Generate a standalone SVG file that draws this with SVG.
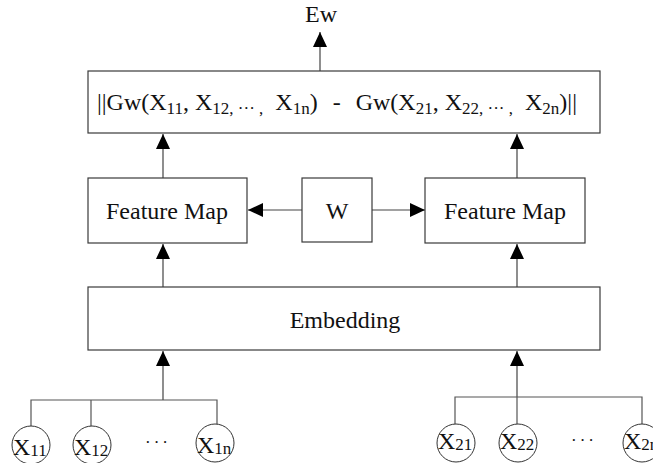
<svg xmlns="http://www.w3.org/2000/svg" width="653" height="463" viewBox="0 0 653 463">
  <style>
    .box { fill: #ffffff; stroke: #3a3a3a; stroke-width: 1.2; }
    .node-circle { fill: #ffffff; stroke: #333333; stroke-width: 1; }
    .lbl { font-family: "Liberation Serif", "Times New Roman", serif; font-size: 24px; fill: #111111; }
    .sub { font-size: 17px; }
    .wire { stroke: #555555; stroke-width: 1.2; fill: none; }
    .arrow { stroke: #444444; stroke-width: 1.2; fill: none; marker-end: url(#head); }
  </style>
  <defs>
    <marker id="head" markerUnits="userSpaceOnUse" viewBox="0 0 15 14" refX="15" refY="7" markerWidth="15" markerHeight="14" orient="auto">
      <path d="M0,0 L15,7 L0,14 Z" fill="#000000"/>
    </marker>
  </defs>

  <rect width="653" height="463" fill="#ffffff"/>

  <!-- connectors -->
  <g id="connectors">
    <line class="arrow" x1="320" y1="71" x2="320" y2="32"/>
    <line class="arrow" x1="163" y1="178" x2="163" y2="134"/>
    <line class="arrow" x1="517" y1="178" x2="517" y2="134"/>
    <line class="arrow" x1="302" y1="210" x2="248" y2="210"/>
    <line class="arrow" x1="372" y1="210" x2="425" y2="210"/>
    <line class="arrow" x1="163" y1="287" x2="163" y2="244"/>
    <line class="arrow" x1="517" y1="287" x2="517" y2="244"/>
    <line class="arrow" x1="163" y1="400" x2="163" y2="351"/>
    <line class="arrow" x1="517" y1="397" x2="517" y2="351"/>
    <!-- left input bus -->
    <path class="wire" d="M31,426 V400 H217 V426 M91,400 V426"/>
    <!-- right input bus -->
    <path class="wire" d="M455,424 V397 H642 V424 M517,397 V424"/>
  </g>

  <!-- output -->
  <g id="ew">
    <text class="lbl" x="321" y="22" text-anchor="middle">Ew</text>
  </g>

  <!-- distance -->
  <g id="distance">
    <rect class="box" x="88" y="71" width="512" height="62"/>
    <text class="lbl" x="97" y="110">||Gw(X<tspan class="sub" y="114">11</tspan><tspan y="110">, X</tspan><tspan class="sub" y="114">12, ··· ,</tspan><tspan y="110" dx="6"> X</tspan><tspan class="sub" y="114">1n</tspan><tspan y="110">)</tspan><tspan y="110" dx="9"> - </tspan><tspan y="110" dx="9">Gw(X</tspan><tspan class="sub" y="114">21</tspan><tspan y="110">, X</tspan><tspan class="sub" y="114">22, ··· ,</tspan><tspan y="110" dx="6"> X</tspan><tspan class="sub" y="114">2n</tspan><tspan y="110">)||</tspan></text>
  </g>

  <!-- feature maps and shared weights -->
  <g id="feature-map-left">
    <rect class="box" x="88" y="178" width="159" height="65"/>
    <text class="lbl" x="167" y="219" text-anchor="middle">Feature Map</text>
  </g>
  <g id="weights">
    <rect class="box" x="302" y="178" width="70" height="64"/>
    <text class="lbl" x="337" y="219" text-anchor="middle">W</text>
  </g>
  <g id="feature-map-right">
    <rect class="box" x="425" y="178" width="160" height="65"/>
    <text class="lbl" x="505" y="219" text-anchor="middle">Feature Map</text>
  </g>

  <!-- embedding -->
  <g id="embedding">
    <rect class="box" x="88" y="287" width="512" height="63"/>
    <text class="lbl" x="345" y="328" text-anchor="middle">Embedding</text>
  </g>

  <!-- inputs, first sequence -->
  <g id="x11">
    <circle class="node-circle" cx="31" cy="445" r="19"/>
    <text class="lbl" x="13" y="455">X<tspan class="sub" y="456">11</tspan></text>
  </g>
  <g id="x12">
    <circle class="node-circle" cx="92" cy="445" r="19"/>
    <text class="lbl" x="74" y="455">X<tspan class="sub" y="456">12</tspan></text>
  </g>
  <g id="dots-1">
    <text class="lbl sub" x="158" y="448" text-anchor="middle" letter-spacing="3">···</text>
  </g>
  <g id="x1n">
    <circle class="node-circle" cx="215" cy="443" r="19"/>
    <text class="lbl" x="197" y="453">X<tspan class="sub" y="454">1n</tspan></text>
  </g>

  <!-- inputs, second sequence -->
  <g id="x21">
    <circle class="node-circle" cx="456" cy="443" r="19"/>
    <text class="lbl" x="438" y="449">X<tspan class="sub" y="450">21</tspan></text>
  </g>
  <g id="x22">
    <circle class="node-circle" cx="518" cy="443" r="19"/>
    <text class="lbl" x="500" y="449">X<tspan class="sub" y="450">22</tspan></text>
  </g>
  <g id="dots-2">
    <text class="lbl sub" x="584" y="446" text-anchor="middle" letter-spacing="3">···</text>
  </g>
  <g id="x2n">
    <circle class="node-circle" cx="642" cy="443" r="19"/>
    <text class="lbl" x="624" y="449">X<tspan class="sub" y="450">2n</tspan></text>
  </g>
</svg>
